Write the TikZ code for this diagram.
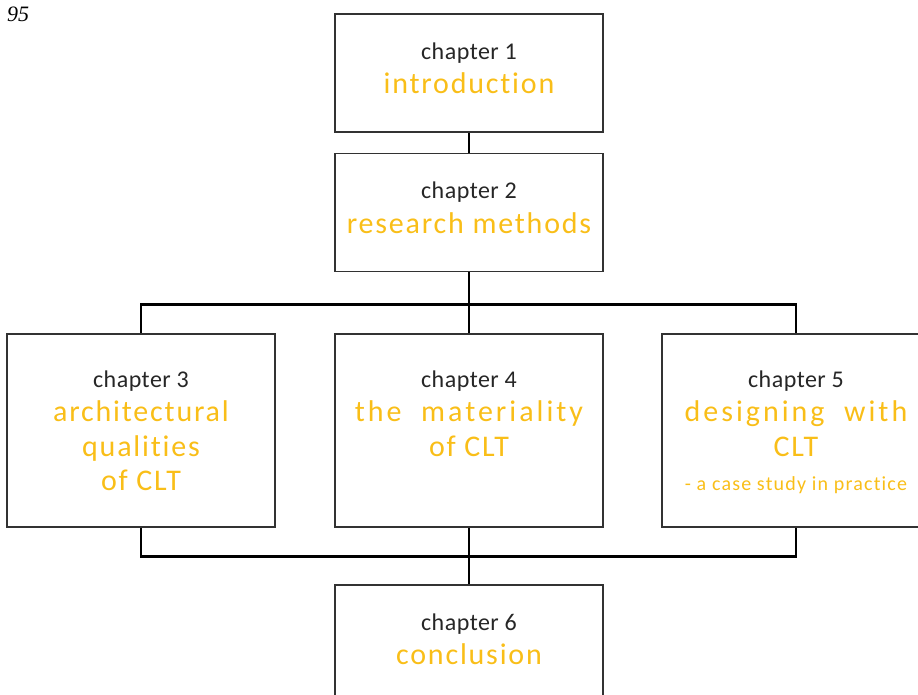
\documentclass[tikz,border=0pt]{standalone}
\usepackage{fontspec}
\setmainfont{Carlito}
\newfontfamily\chapfont{Carlito}[LetterSpace=2,Ligatures=NoCommon]
\newfontfamily\titlefont{Carlito}[LetterSpace=6,Ligatures=NoCommon]
\newfontfamily\widefont{Carlito}[LetterSpace=10,Ligatures=NoCommon]
\newfontfamily\pagefont{Liberation Serif}
\usepackage{tikz}
\usetikzlibrary{positioning}
\definecolor{chapyellow}{RGB}{249,190,24}
\definecolor{chapgray}{RGB}{38,38,38}
\definecolor{boxline}{RGB}{50,50,50}
\tikzset{
    chapbox/.style={draw=boxline,line width=1.5pt,minimum width=268pt,inner sep=0pt},
    topbox/.style={chapbox,minimum height=118pt},
    rowbox/.style={chapbox,minimum height=193pt},
    chaptext/.style={align=center,inner sep=0pt,text=chapyellow,font=\titlefont\fontsize{30}{34.5}\selectfont},
    link/.style={line width=2.8pt,black}
}
\newcommand{\chap}[1]{{\chapfont\color{chapgray}\fontsize{24}{34.5}\selectfont chapter #1}}

\begin{document}
\begin{tikzpicture}[x=1pt,y=-1pt]
    \useasboundingbox (0,0) rectangle (918,695);
    \clip (0,0) rectangle (918,695);
    \node[font=\pagefont\itshape\fontsize{22}{26}\selectfont] (page) at (18,14) {95};

    % chapter boxes
    \node[topbox] (b1) at (469,73) {};
    \node[topbox] (b2) at (469,212.5) {};
    \node[rowbox] (b3) at (141,430.5) {};
    \node[rowbox] (b4) at (469,430.5) {};
    \node[rowbox] (b5) at (796,430.5) {};
    \node[topbox] (b6) at (469,644) {};

    % chapter titles
    \node[chaptext,below=29pt of b1.north] (t1) {\chap{1}\\introduction};
    \node[chaptext,below=29pt of b2.north] (t2) {\chap{2}\\research methods};
    \node[chaptext,below=37pt of b3.north] (t3) {\chap{3}\\architectural\\qualities\\of CLT};
    \node[chaptext,below=37pt of b4.north] (t4) {\chap{4}\\{\widefont the\ \ materiality}\\of CLT};
    \node[chaptext,below=37pt of b5.north] (t5) {\chap{5}\\{\widefont designing\ \ with}\\CLT\\{\fontsize{20}{34.5}\selectfont - a case study in practice}};
    \node[chaptext,below=29pt of b6.north] (t6) {\chap{6}\\conclusion};

    % connectors
    \draw[link] (b1) -- (b2);
    \draw[link] (b2) -- (b4);
    \draw[link] (b3.north) -- ++(0,-28.5) -| (b5.north);
    \draw[link] (b4) -- (b6);
    \draw[link] (b3.south) -- ++(0,28.5) -| (b5.south);
\end{tikzpicture}
\end{document}
